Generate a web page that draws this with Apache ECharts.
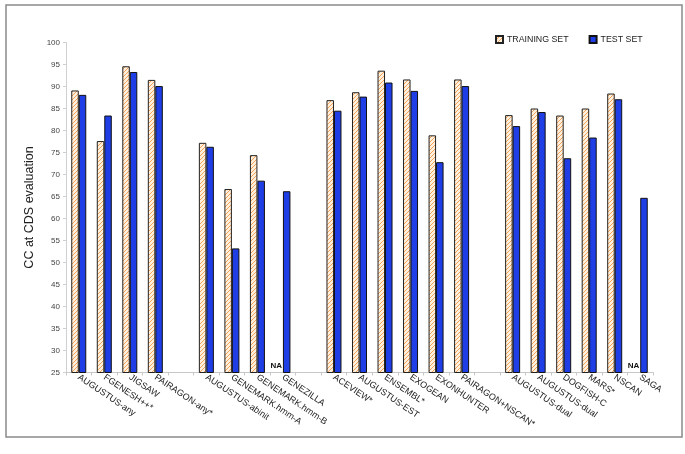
<!DOCTYPE html>
<html>
<head>
<meta charset="utf-8">
<script src="https://cdn.jsdelivr.net/npm/echarts@6/dist/echarts.min.js"></script>
<style>
  html, body { margin: 0; padding: 0; background: #ffffff; }
  #chart { width: 685px; height: 454px; }
</style>
</head>
<body>
<div id="chart"></div>
<script>
const categories = ['AUGUSTUS-any','FGENESH++*','JIGSAW','PAIRAGON-any*','',
  'AUGUSTUS-abinit','GENEMARK.hmm-A','GENEMARK.hmm-B','GENEZILLA','',
  'ACEVIEW*','AUGUSTUS-EST','ENSEMBL*','EXOGEAN','EXONHUNTER','PAIRAGON+NSCAN*','',
  'AUGUSTUS-dual','AUGUSTUS-dual','DOGFISH-C','MARS*','NSCAN','SAGA'];
const trainingSet = [89.1, 77.6, 94.6, 91.5, null,
  77.2, 66.7, 74.4, 'NA', null,
  86.9, 88.7, 93.6, 91.6, 78.9, 91.6, null,
  83.5, 85.0, 83.4, 85.0, 88.4, 'NA'];
const testSet = [88.1, 83.4, 93.3, 90.1, null,
  76.3, 53.2, 68.6, 66.2, null,
  84.5, 87.7, 90.9, 89.0, 72.8, 90.1, null,
  81.0, 84.2, 73.7, 78.4, 87.1, 64.7];
const yTicks = {min: 25, max: 100, step: 5};

const FONT = 'Liberation Sans, Arial, sans-serif';

// hatch pattern for training bars
function makeHatch() {
  const c = document.createElement('canvas');
  const s = 4;
  c.width = s; c.height = s;
  const g = c.getContext('2d');
  g.fillStyle = '#fff0de';
  g.fillRect(0, 0, s, s);
  g.strokeStyle = '#f3a35a';
  g.lineWidth = 1;
  g.beginPath();
  g.moveTo(0, s); g.lineTo(s, 0);
  g.moveTo(-1, 1); g.lineTo(1, -1);
  g.moveTo(s - 1, s + 1); g.lineTo(s + 1, s - 1);
  g.stroke();
  return c;
}
const hatch = makeHatch();

const trainingData = trainingSet.map(v => {
  if (v === 'NA') {
    return {
      value: yTicks.min,
      itemStyle: {color: 'transparent', borderWidth: 0},
      label: {show: true, position: 'top', formatter: 'NA', distance: 3, offset: [-3, 0],
        fontSize: 8, fontWeight: 'bold', color: '#111', fontFamily: FONT}
    };
  }
  return v;
});

const chart = echarts.init(document.getElementById('chart'), null, {renderer: 'canvas'});
chart.setOption({
  animation: false,
  backgroundColor: '#ffffff',
  graphic: [{
    type: 'rect', shape: {x: 6, y: 5, width: 676, height: 432},
    style: {fill: 'none', stroke: '#8a8a8a', lineWidth: 1.5}, silent: true
  }],
  legend: {
    left: 490, top: 30, itemWidth: 7, itemHeight: 7, itemGap: 20,
    icon: 'rect',
    textStyle: {fontSize: 8.8, color: '#222', fontFamily: FONT, padding: [0, 0, 0, -1]},
    data: ['TRAINING SET', 'TEST SET']
  },
  grid: {left: 66, right: 32, top: 42.5, bottom: 81.5, containLabel: false},
  xAxis: {
    type: 'category',
    data: categories,
    axisLine: {lineStyle: {color: '#c8c8c8', width: 1}},
    axisTick: {show: true, interval: 0, length: 3, lineStyle: {color: '#c8c8c8'}},
    axisLabel: {interval: 0, rotate: -34, margin: 4, fontSize: 9, color: '#222', fontFamily: FONT}
  },
  yAxis: {
    type: 'value',
    min: yTicks.min, max: yTicks.max, interval: yTicks.step,
    name: 'CC at CDS evaluation',
    nameLocation: 'middle', nameGap: 25,
    nameTextStyle: {fontSize: 12.5, color: '#222', fontFamily: FONT},
    axisLine: {show: true, lineStyle: {color: '#d0d0d0'}},
    axisTick: {show: true, length: 3, lineStyle: {color: '#d0d0d0'}},
    axisLabel: {fontSize: 8, color: '#444', margin: 6, fontFamily: FONT},
    splitLine: {show: false}
  },
  series: [
    {
      name: 'TRAINING SET', type: 'bar', data: trainingData,
      barWidth: 7.5, barGap: '0%',
      itemStyle: {color: {image: hatch, repeat: 'repeat'}, borderColor: '#222', borderWidth: 1}
    },
    {
      name: 'TEST SET', type: 'bar', data: testSet,
      barWidth: 7.5, barGap: '0%',
      itemStyle: {color: '#1f3ee6', borderColor: '#111', borderWidth: 1}
    }
  ]
});
</script>
</body>
</html>
